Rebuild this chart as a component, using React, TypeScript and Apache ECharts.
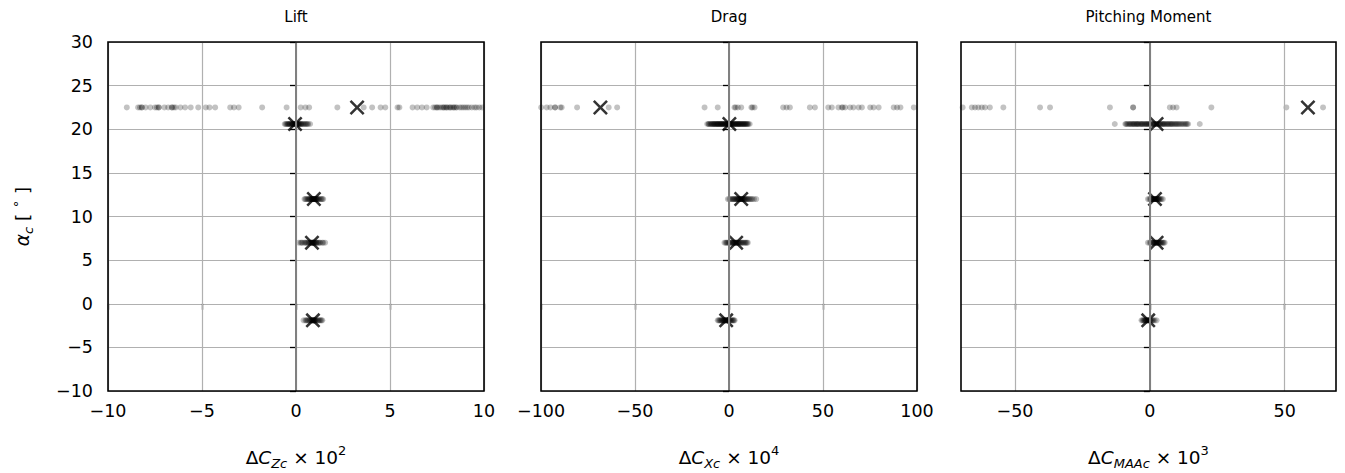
import React, { useEffect, useRef } from "react";
import * as echarts from "echarts";

// Angle of attack of each test condition (deg)
const ALPHA_C = [22.5, 20.6, 12.0, 7.0, -1.9];

// Lift coefficient deviations, x 10^2 (one list per angle of attack)
const LIFT_SAMPLES: number[][] = [
  [-9.0, -8.4, -8.3, -8.2, -8.2, -8.0, -7.75, -7.5, -7.4, -7.3, -7.3, -7.0, -6.8, -6.6, -6.6, -6.5, -6.4, -6.15,
    -5.9, -5.6, -5.2, -4.8, -4.6, -4.3, -3.5, -3.3, -3.05, -1.8, -0.5, 0.25, 0.5, 0.7, 2.2, 3.6, 4.05, 4.5, 4.75,
    5.4, 5.5, 6.2, 6.45, 6.7, 6.95, 7.3, 7.4, 7.5, 7.5, 7.6, 7.7, 7.8, 7.85, 7.9, 8.0, 8.0, 8.1, 8.2, 8.2, 8.3,
    8.4, 8.4, 8.5, 8.55, 8.7, 8.8, 8.9, 9.0, 9.1, 9.2, 9.35, 9.5, 9.6, 9.75, 9.9],
  [-0.6, -0.5, -0.45, -0.4, -0.35, -0.3, -0.25, -0.2, -0.2, -0.15, -0.1, -0.1, -0.05, 0.0, 0.0, 0.05, 0.1, 0.1,
    0.15, 0.2, 0.25, 0.3, 0.4, 0.5, 0.6, 0.75, -0.55, -0.42, -0.33, -0.22, -0.12, -0.03, 0.03, 0.12, 0.18, 0.27,
    0.35, 0.45, 0.55, 0.65],
  [0.45, 0.55, 0.65, 0.7, 0.75, 0.8, 0.85, 0.85, 0.9, 0.9, 0.95, 0.95, 1.0, 1.0, 1.05, 1.1, 1.15, 1.2, 1.3, 1.4,
    1.45, 0.5, 0.62, 0.72, 0.82, 0.88, 0.93, 0.98, 1.03, 1.08, 1.13, 1.22, 1.35],
  [0.15, 0.25, 0.35, 0.45, 0.55, 0.6, 0.7, 0.75, 0.8, 0.85, 0.85, 0.9, 0.9, 0.95, 1.0, 1.05, 1.1, 1.2, 1.3, 1.4,
    1.55, 0.3, 0.5, 0.65, 0.78, 0.88, 0.93, 0.98, 1.08, 1.15, 1.25, 1.45],
  [0.4, 0.5, 0.6, 0.65, 0.75, 0.8, 0.85, 0.9, 0.9, 0.95, 0.95, 1.0, 1.05, 1.1, 1.2, 1.3, 1.4, 0.55, 0.7, 0.82,
    0.88, 0.93, 0.98, 1.03, 1.15, 1.25, 1.35],
];
const LIFT_MEANS = [3.25, -0.05, 0.95, 0.85, 0.9];

// Drag coefficient deviations, x 10^4
const DRAG_SAMPLES: number[][] = [
  [-99.9, -97.0, -95.0, -92.5, -92.5, -89.7, -89.0, -80.8, -64.0, -59.5, -13.0, -6.0, 2.9, 3.5, 4.7, 6.5, 11.9,
    12.5, 13.6, 28.8, 30.6, 32.4, 43.0, 45.7, 52.8, 54.7, 58.2, 60.0, 60.5, 61.8, 64.4, 66.2, 68.9, 70.7, 75.1,
    76.9, 79.6, 87.6, 89.4, 91.2, 98.3],
  [-11.6, -10.8, -10.1, -9.4, -9.0, -8.3, -7.9, -7.2, -6.6, -6.1, -5.7, -5.0, -4.6, -4.1, -3.5, -3.1, -2.4, -2.0,
    -1.6, -1.1, -0.7, -0.2, 0.3, 0.6, 1.2, 1.7, 2.1, 2.8, 3.3, 3.7, 4.4, 4.9, 5.3, 6.0, 6.4, 7.1, 7.7, 8.2, 8.9,
    9.6, 10.3, 11.0, -10.9, -9.8, -8.7, -8.0, -7.5, -6.9, -6.3, -5.9, -5.3, -4.8, -4.3, -3.8, -3.3, -2.8, -2.2,
    -1.8, -1.3, -0.9, -0.4, 0.1, 0.4, 0.9, 1.4, 1.9, 2.4, 3.0, 3.5, 4.1, 4.6, 5.1, 5.6, 6.2, 6.8, 7.4, 8.0, 8.6,
    9.2, 9.9],
  [-0.6, 0.8, 1.9, 2.7, 3.5, 4.2, 4.8, 5.3, 5.9, 6.3, 6.8, 7.2, 7.9, 8.5, 9.3, 10.1, 11.2, 12.4, 14.5, 0.2, 1.4,
    2.3, 3.1, 3.9, 4.5, 5.1, 5.6, 6.1, 6.6, 7.0, 7.5, 8.2, 8.9, 9.7, 10.6, 11.8, 13.3],
  [-2.4, -1.3, -0.4, 0.5, 1.3, 2.0, 2.6, 3.1, 3.6, 4.1, 4.7, 5.4, 6.2, 7.0, 8.1, 9.0, 10.0, -1.8, -0.9, 0.1, 0.9,
    1.7, 2.3, 2.9, 3.4, 3.9, 4.4, 5.0, 5.8, 6.6, 7.5, 8.6, 9.5],
  [-6.0, -5.0, -4.2, -3.5, -2.9, -2.4, -2.0, -1.6, -1.1, -0.7, -0.1, 0.6, 1.4, 2.2, 3.0, -5.5, -4.6, -3.8, -3.2,
    -2.7, -2.2, -1.8, -1.4, -0.9, -0.4, 0.2, 1.0, 1.8, 2.6],
];
const DRAG_MEANS = [-68.4, 0.2, 6.5, 3.8, -1.5];

// Pitching moment coefficient deviations, x 10^3
const MOMENT_SAMPLES: number[][] = [
  [-69.4, -66.0, -64.8, -63.6, -62.3, -61.1, -59.3, -54.3, -40.7, -37.0, -14.8, -6.2, -6.2, 7.4, 8.6, 9.9, 22.8,
    50.6, 64.2],
  [-13.0, -9.1, -8.4, -7.6, -7.0, -6.3, -5.8, -5.1, -4.6, -4.0, -3.3, -2.8, -2.1, -1.5, -1.0, -0.4, 0.2, 0.7, 1.3,
    1.8, 2.4, 2.9, 3.5, 4.0, 4.7, 5.2, 5.8, 6.5, 7.1, 7.8, 8.4, 9.2, 9.9, 10.7, 11.6, 12.5, 13.4, 14.2, 18.5,
    -8.8, -8.0, -7.3, -6.6, -6.0, -5.4, -4.8, -4.3, -3.6, -3.0, -2.5, -1.8, -1.2, -0.7, -0.1, 0.4, 1.0, 1.6, 2.1,
    2.6, 3.2, 3.8, 4.4, 4.9, 5.5, 6.2, 6.8, 7.5, 8.1, 8.8, 9.6, 10.3, 11.1, 12.0, 13.0, 13.8],
  [-0.7, 0.2, 0.7, 1.1, 1.4, 1.7, 2.0, 2.3, 2.6, 3.0, 3.4, 3.9, 4.8, -0.2, 0.5, 0.9, 1.3, 1.6, 1.9, 2.2, 2.5, 2.8,
    3.2, 3.6, 4.3],
  [-0.7, 0.3, 0.9, 1.4, 1.8, 2.2, 2.5, 2.8, 3.2, 3.6, 4.2, 4.8, 5.5, -0.1, 0.6, 1.1, 1.6, 2.0, 2.4, 2.7, 3.0, 3.4,
    3.9, 4.5, 5.1],
  [-3.1, -2.4, -1.9, -1.5, -1.1, -0.8, -0.5, -0.2, 0.2, 0.7, 1.3, 2.5, -2.7, -2.1, -1.7, -1.3, -0.9, -0.6, -0.3,
    0.0, 0.4, 1.0, 1.8],
];
const MOMENT_MEANS = [58.6, 2.5, 1.9, 2.5, -0.6];

const PANEL_TITLES = ["Lift", "Drag", "Pitching Moment"];
const X_SUBSCRIPTS = ["Zc", "Xc", "MAAc"];
const X_POWERS = ["2", "4", "3"];
const X_MIN = [-10, -100, -70];
const X_MAX = [10, 100, 69];
const X_TICKS = [
  [-10, -5, 0, 5, 10],
  [-100, -50, 0, 50, 100],
  [-50, 0, 50],
];
const Y_MIN = -10;
const Y_MAX = 30;
const Y_STEP = 5;

const FONT = "DejaVu Sans";
const GRID_COLOR = "#b0b0b0";
const GRIDS = [
  { left: 108, top: 42, width: 376, height: 349 },
  { left: 541, top: 42, width: 376, height: 349 },
  { left: 961, top: 42, width: 375, height: 349 },
];

// filled "x" marker outline
const CROSS = "path://M0,12L12,0L50,38L88,0L100,12L62,50L100,88L88,100L50,62L12,100L0,88L38,50Z";

const minusSign = (v: number) => String(v).replace("-", "\u2212");

function mathRich(size: number, sub: number) {
  return {
    u: { fontSize: size, fontFamily: FONT, lineHeight: 26, fill: "#000" },
    i: { fontSize: size, fontFamily: FONT, fontStyle: "italic", lineHeight: 26, fill: "#000" },
    s: { fontSize: sub, fontFamily: FONT, fontStyle: "italic", lineHeight: 16, verticalAlign: "bottom", fill: "#000" },
    p: { fontSize: sub, fontFamily: FONT, lineHeight: 15, verticalAlign: "top", fill: "#000" },
  };
}

function buildOption(): echarts.EChartsOption {
  const samples = [LIFT_SAMPLES, DRAG_SAMPLES, MOMENT_SAMPLES];
  const means = [LIFT_MEANS, DRAG_MEANS, MOMENT_MEANS];

  const tickStyle = { color: "#000", width: 1.3 };
  const labelStyle = { fontSize: 17.5, color: "#000", fontFamily: FONT };

  const series: any[] = [];
  samples.forEach((rows, i) => {
    series.push({
      type: "line",
      xAxisIndex: i,
      yAxisIndex: i,
      data: [],
      z: 1,
      silent: true,
      markLine: {
        silent: true,
        symbol: ["none", "none"],
        label: { show: false },
        animation: false,
        data: [
          ...X_TICKS[i].map((v) => ({ xAxis: v, lineStyle: { color: GRID_COLOR, width: 1.2, type: "solid" } })),
          { xAxis: 0, lineStyle: { color: "#808080", width: 2, type: "solid" } },
        ],
      },
    });
    const points: number[][] = [];
    rows.forEach((row, k) => row.forEach((v) => points.push([v, ALPHA_C[k]])));
    series.push({
      type: "scatter",
      xAxisIndex: i,
      yAxisIndex: i,
      data: points,
      symbol: "circle",
      symbolSize: 6,
      itemStyle: { color: "rgba(0,0,0,0.3)" },
      z: 2,
      silent: true,
    });
    series.push({
      type: "scatter",
      xAxisIndex: i,
      yAxisIndex: i,
      data: means[i].map((m, k) => [m, ALPHA_C[k]]),
      symbol: CROSS,
      symbolSize: 15,
      itemStyle: { color: "#000" },
      z: 3,
      silent: true,
    });
  });

  const graphics: any[] = [];
  GRIDS.forEach((g, i) => {
    graphics.push({
      type: "rect",
      z: 100,
      silent: true,
      shape: { x: g.left, y: g.top, width: g.width, height: g.height },
      style: { fill: "none", stroke: "#000", lineWidth: 1.6 },
    });
    graphics.push({
      type: "text",
      z: 100,
      x: g.left + g.width / 2,
      y: 17,
      style: {
        text: PANEL_TITLES[i],
        fontSize: 15,
        fontFamily: FONT,
        fill: "#000",
        align: "center",
        verticalAlign: "middle",
        textAlign: "center",
        textVerticalAlign: "middle",
      },
    });
    graphics.push({
      type: "text",
      z: 100,
      x: g.left + g.width / 2,
      y: 457,
      style: {
        text: `{u|Δ}{i|C}{s|${X_SUBSCRIPTS[i]}}{u| × 10}{p|${X_POWERS[i]}}`,
        align: "center",
        verticalAlign: "middle",
        textAlign: "center",
        textVerticalAlign: "middle",
        fill: "#000",
        rich: mathRich(18.5, 13),
      },
    });
  });
  graphics.push({
    type: "text",
    z: 100,
    x: 22,
    y: GRIDS[0].top + GRIDS[0].height / 2,
    rotation: Math.PI / 2,
    style: {
      text: "{i|α}{s|c}{u| [ }{p|∘}{u| ]}",
      align: "center",
      verticalAlign: "middle",
      textAlign: "center",
      textVerticalAlign: "middle",
      fill: "#000",
      rich: mathRich(18.5, 13),
    },
  });

  return {
    animation: false,
    backgroundColor: "#fff",
    grid: GRIDS.map((g) => ({ ...g, containLabel: false })),
    xAxis: GRIDS.map((_, i) => ({
      type: "value",
      gridIndex: i,
      min: X_MIN[i],
      max: X_MAX[i],
      axisLine: { show: false },
      axisTick: { show: true, length: 6, lineStyle: tickStyle, customValues: X_TICKS[i] },
      axisLabel: { show: true, customValues: X_TICKS[i], formatter: minusSign, margin: 11, ...labelStyle },
      splitLine: { show: false },
    })),
    yAxis: GRIDS.map((_, i) => ({
      type: "value",
      gridIndex: i,
      min: Y_MIN,
      max: Y_MAX,
      interval: Y_STEP,
      axisLine: { show: false },
      axisTick: { show: true, length: 6, lineStyle: tickStyle },
      axisLabel: { show: i === 0, formatter: minusSign, margin: 15, ...labelStyle },
      splitLine: { show: true, lineStyle: { color: GRID_COLOR, width: 1.2 } },
    })),
    series,
    graphic: { elements: graphics },
  } as any;
}

export default function App() {
  const ref = useRef<HTMLDivElement>(null);
  useEffect(() => {
    if (!ref.current) return;
    const chart = echarts.init(ref.current, undefined, { renderer: "svg" });
    chart.setOption(buildOption());
    return () => chart.dispose();
  }, []);
  return (
    <div
      ref={ref}
      style={{ position: "fixed", left: 0, top: 0, width: 1345, height: 473, background: "#fff" }}
    />
  );
}
